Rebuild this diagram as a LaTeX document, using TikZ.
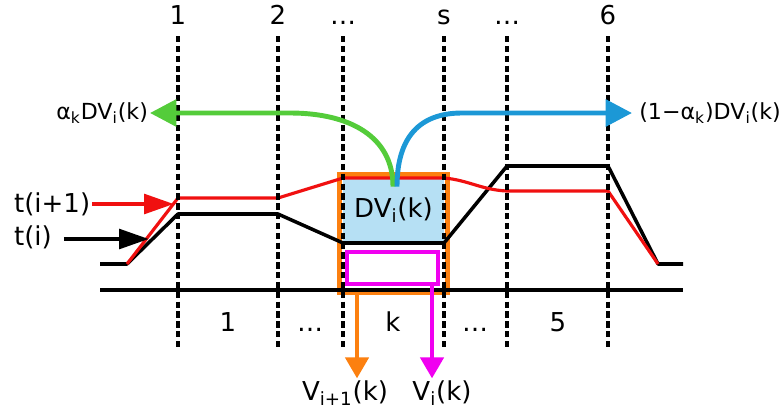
\documentclass[tikz,border=0pt]{standalone}
\usepackage{fontspec}
\setmainfont{DejaVu Sans}
\usetikzlibrary{calc, arrows.meta, positioning}
\definecolor{dvblue}{RGB}{182,224,244}
\definecolor{mgreen}{RGB}{84,204,58}
\definecolor{mblue}{RGB}{28,152,214}
\definecolor{morange}{RGB}{252,128,16}
\definecolor{mmagenta}{RGB}{240,0,240}
\definecolor{mred}{RGB}{240,16,16}

\begin{document}
\begin{tikzpicture}[
        x=0.02cm, y=-0.02cm,
        lbl/.style = {font=\fontsize{14.8}{16}\selectfont, inner sep=1pt},
        share/.style = {font=\fontsize{12.6}{15}\selectfont, inner sep=1pt},
        grid/.style = {line width=1.9pt, dash pattern=on 3.6pt off 2pt},
        traj/.style = {line width=2pt, line join=round},
        curve/.style = {line width=2.8pt, -{Triangle[length=15pt, width=15pt]}},
        down/.style = {line width=2.8pt, -{Triangle[length=12pt, width=13pt]}},
        side/.style = {line width=2.6pt, -{Triangle[length=17pt, width=11pt]}}
    ]
        \useasboundingbox (0,0) rectangle (783,409);

        % Cell k: share of section k
        \node (dv) [fill=dvblue, minimum width=2.02cm, minimum height=1.3cm, inner sep=0pt, lbl] at (393.5,210.5) {DV\textsubscript{i}(k)};
        \node (vbox) [draw=mmagenta, fill=white, line width=2.4pt, minimum width=1.82cm, minimum height=0.64cm, inner sep=0pt] at (392.5,268) {};
        \node (obox) [draw=morange, line width=3.2pt, minimum width=2.16cm, minimum height=2.36cm, inner sep=0pt] at (393.5,233.5) {};

        % Trajectories t(i) and t(i+1)
        \draw [traj] (100,264) -- (127,264) -- (178,214) -- (278,214) -- (343,243) -- (444,243)
            -- (507,166) -- (608,166) -- (658,264) -- (683,264);
        \draw [traj, mred, line width=1.8pt] (127,264) -- (178,198) -- (278,198) -- (343,178) -- (444,178)
            .. controls (468,180) and (482,190) .. (507,191) -- (608,191) -- (658,264);

        % Stations and sections
        \foreach \x/\t/\n in {178/1/a, 278/2/b, 343/…/c, 444/s/d, 507/…/e, 608/6/f} {
            \node (top\n) [lbl, anchor=base] at (\x,24) {\t};
            \draw [grid] (\x,36) -- (\x,350);
        }
        \foreach \x/\t/\n in {228/1/a, 310/…/b, 393/k/c, 475/…/d, 558/5/e}
            \node (sec\n) [lbl, anchor=base] at (\x,331) {\t};
        \draw [line width=1.8pt] (100,290) -- (683,290);

        % Labels
        \node (ti1) [lbl, anchor=west] at (12,204) {t(i+1)};
        \node (ti) [lbl, anchor=west] at (12,237) {t(i)};
        \node (left) [share, anchor=east] at (150,113) {α\textsubscript{k}DV\textsubscript{i}(k)};
        \node (right) [share, anchor=west, inner xsep=0pt] at (639,113) {(1−α\textsubscript{k})DV\textsubscript{i}(k)};
        \node (vnext) [lbl] at (345,393) {V\textsubscript{i+1}(k)};
        \node (vcur) [lbl] at (442,393) {V\textsubscript{i}(k)};

        % Split of DV
        \coordinate (gsrc) at ($(dv.north)+(-0.5,9)$);
        \coordinate (bsrc) at ($(dv.north)+(3.5,9)$);
        \draw [curve, mgreen] (gsrc) .. controls ($(gsrc)+(0,-50)$) and (350,113) .. (290,113) -- (left.east);
        \draw [curve, mblue] (bsrc) .. controls ($(bsrc)+(0,-50)$) and (420,113) .. (462,113) -- ([xshift=-4pt]right.west);

        % Pointers
        \coordinate (rtip) at (174,204);
        \coordinate (btip) at (149,239);
        \draw [side, mred] (ti1.east) -- (rtip);
        \draw [side] (ti.east |- btip) ++(10,0) -- (btip);

        % Volumes out of cell k
        \coordinate (osrc) at (357,294);
        \coordinate (msrc) at (432,286);
        \draw [down, morange] (osrc) -- (osrc |- vnext.north);
        \draw [down, mmagenta] (msrc) -- (msrc |- vcur.north);

    \end{tikzpicture}
\end{document}
